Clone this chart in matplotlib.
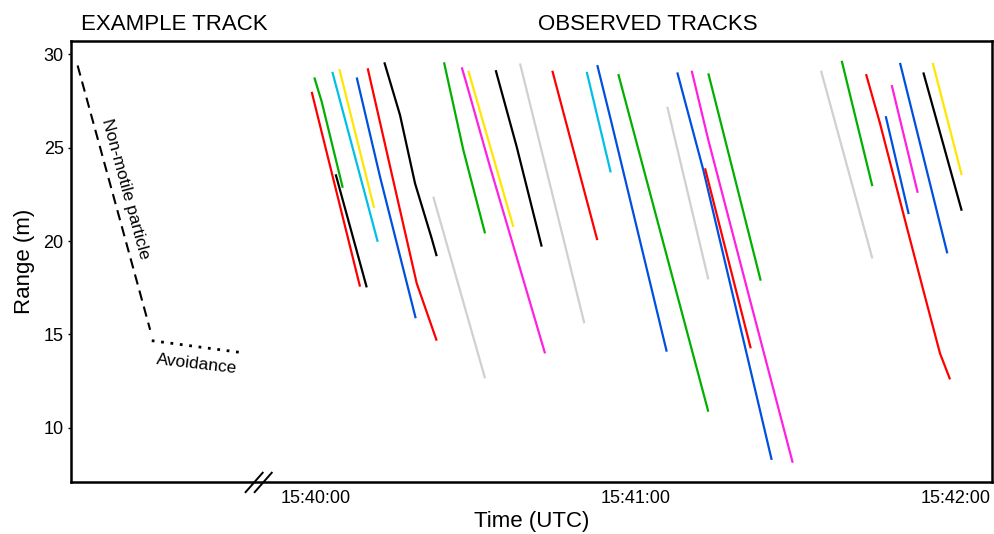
import matplotlib.pyplot as plt
import matplotlib.transforms as mtransforms

plt.rcParams['font.family'] = ['Liberation Sans', 'DejaVu Sans']

# time in seconds after 15:40:00 (UTC), range in metres
example_t = [-44.7, -31.1]
example_r = [29.39, 15.25]
avoid_t = [-30.8, -13.9]
avoid_r = [14.67, 14.03]

red = '#ff0000'
green = '#00b000'
cyan = '#00c0e8'
yellow = '#ffe600'
blue = '#0050e0'
magenta = '#ff20e0'
gray = '#d0d0d0'
black = '#000000'

track_t = [
    [-0.81, 8.25],
    [-0.32, 1.07, 5.01],
    [3.69, 9.51],
    [3.06, 11.57],
    [4.37, 10.88],
    [7.63, 12.0, 18.69],
    [9.69, 18.88, 22.63],
    [12.81, 15.75, 18.56, 21.69, 22.63],
    [21.99, 31.69],
    [24.0, 27.62, 31.69],
    [27.32, 27.94, 32.63, 42.94],
    [28.56, 37.0],
    [33.69, 37.63, 42.32],
    [38.25, 50.31],
    [44.31, 52.74],
    [50.76, 55.26],
    [52.74, 55.44, 65.76],
    [56.68, 73.56],
    [65.87, 73.56],
    [67.74, 72.62, 85.44],
    [70.44, 73.56, 81.38, 89.38],
    [73.56, 83.38],
    [72.94, 81.51],
    [94.69, 104.31],
    [98.57, 104.31],
    [103.13, 105.75, 110.76, 114.19, 117.0, 118.88],
    [106.82, 111.13],
    [107.94, 112.82],
    [109.5, 118.37],
    [113.87, 121.07],
    [115.63, 121.07],
]
track_r = [
    [27.98, 17.56],
    [28.75, 27.45, 22.85],
    [23.57, 17.52],
    [29.05, 19.96],
    [29.20, 21.78],
    [28.75, 23.44, 15.87],
    [29.24, 17.74, 14.67],
    [29.56, 26.74, 23.09, 20.14, 19.19],
    [22.37, 12.66],
    [29.56, 24.87, 20.41],
    [29.29, 28.70, 23.97, 13.99],
    [29.11, 20.76],
    [29.14, 25.04, 19.70],
    [29.50, 15.60],
    [29.11, 20.05],
    [29.05, 23.67],
    [29.41, 26.29, 14.08],
    [28.93, 10.87],
    [27.18, 17.95],
    [29.02, 23.80, 8.29],
    [29.11, 25.40, 16.84, 8.14],
    [28.97, 17.88],
    [23.89, 14.26],
    [29.11, 19.07],
    [29.64, 22.94],
    [28.93, 26.29, 20.76, 17.02, 13.99, 12.60],
    [26.68, 21.44],
    [28.34, 22.58],
    [29.53, 19.34],
    [29.02, 21.62],
    [29.53, 23.53],
]
track_c = [red, green, black, cyan, yellow, blue, red, black, gray, green,
           magenta, yellow, black, gray, red, cyan, blue, green, gray, blue,
           magenta, green, red, gray, green, red, blue, magenta, blue, black,
           yellow]

tick_t = [0, 60, 120]
tick_labels = ['15:40:00', '15:41:00', '15:42:00']
break_t = [-11.6, -9.9]

fig = plt.figure(figsize=(9.94, 5.34), dpi=100)
ax = fig.add_axes([0.0711, 0.0974, 0.9269, 0.8258])

for t, r, c in zip(track_t, track_r, track_c):
    ax.plot(t, r, color=c, lw=1.6, solid_capstyle='butt')

ax.plot(example_t, example_r, color='black', lw=1.5, linestyle=(0, (5, 3)))
ax.plot(avoid_t, avoid_r, color='black', lw=2, linestyle=(0, (1, 2.4)))

ax.text(-35.8, 22.8, 'Non-motile particle', rotation=-74.7, fontsize=12.5,
        ha='center', va='center', rotation_mode='anchor')
ax.text(-22.4, 13.4, 'Avoidance', rotation=-6.5, fontsize=12.5,
        ha='center', va='center', rotation_mode='anchor')

ax.set_xlim(-46, 126.75)
ax.set_ylim(7.11, 30.7)
ax.set_xticks(tick_t)
ax.set_xticklabels(tick_labels)
ax.set_yticks([10, 15, 20, 25, 30])
ax.tick_params(axis='x', length=0, pad=6, labelsize=13)
ax.tick_params(axis='y', length=2, width=1, pad=3, labelsize=13)
for s in ax.spines.values():
    s.set_linewidth(1.8)

ax.set_xlabel('Time (UTC)', fontsize=16, labelpad=3)
ax.set_ylabel('Range (m)', fontsize=16, labelpad=6)

trans = mtransforms.blended_transform_factory(ax.transData, ax.transAxes)
for bt in break_t:
    ax.plot([bt - 1.6, bt + 1.6], [-0.023, 0.021], color='black', lw=1.4,
            transform=trans, clip_on=False)

ax.text(-26.6, 1.0385, 'EXAMPLE TRACK', fontsize=16, ha='center', va='center',
        transform=trans)
ax.text(62.25, 1.0385, 'OBSERVED TRACKS', fontsize=16, ha='center',
        va='center', transform=trans)

fig.savefig('out.png', dpi=100)
